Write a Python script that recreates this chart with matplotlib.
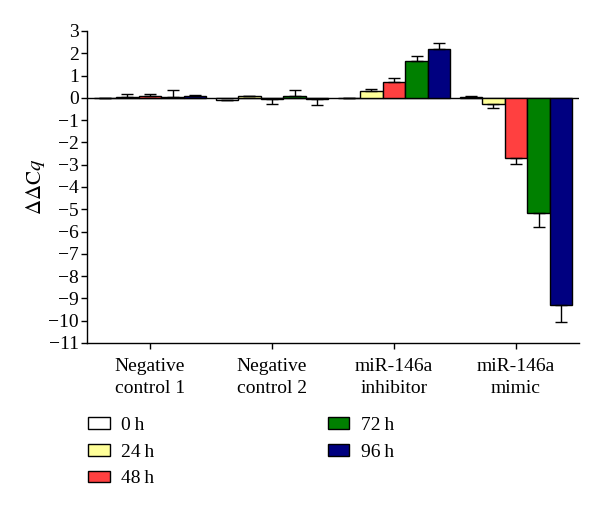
import numpy as np
import matplotlib
matplotlib.use('Agg')
import matplotlib.pyplot as plt

plt.rcParams['font.family'] = ['Liberation Serif', 'DejaVu Serif']
plt.rcParams['mathtext.fontset'] = 'stix'

groups = ['Negative\ncontrol 1', 'Negative\ncontrol 2', 'miR-146a\ninhibitor', 'miR-146a\nmimic']
times = ['0\u2009h', '24\u2009h', '48\u2009h', '72\u2009h', '96\u2009h']
colors = ['#ffffff', '#ffff99', '#ff4040', '#008000', '#000080']

# mean ddCq per time point, one entry per group
vals_0h = [0.0, -0.08, 0.0, 0.03]
vals_24h = [0.05, 0.06, 0.31, -0.27]
vals_48h = [0.10, -0.05, 0.69, -2.70]
vals_72h = [0.05, 0.07, 1.63, -5.19]
vals_96h = [0.08, -0.05, 2.19, -9.28]

err_0h = [0.0, 0.0, 0.0, 0.04]
err_24h = [0.11, 0.04, 0.08, 0.21]
err_48h = [0.05, 0.22, 0.21, 0.26]
err_72h = [0.28, 0.30, 0.25, 0.59]
err_96h = [0.04, 0.28, 0.27, 0.77]

values = [vals_0h, vals_24h, vals_48h, vals_72h, vals_96h]
errors = [err_0h, err_24h, err_48h, err_72h, err_96h]

fig = plt.figure(figsize=(6.0, 5.07), dpi=100)
ax = fig.add_axes([0.145, 0.3235, 0.82, 0.6155])

x = np.arange(len(groups))
w = 0.185
for i, (lab, col) in enumerate(zip(times, colors)):
    pos = x + (i - 2) * w
    v = np.array(values[i])
    e = np.array(errors[i])
    ax.bar(pos, v, w, color=col, edgecolor='black', linewidth=1.0, label=lab, zorder=2)
    lo = np.where(v < 0, e, 0)
    hi = np.where(v >= 0, e, 0)
    ax.errorbar(pos, v, yerr=[lo, hi], fmt='none', ecolor='black',
                elinewidth=1.0, capsize=4.5, capthick=1.0, zorder=3)

ax.axhline(0, color='black', lw=1.0, zorder=1)
ax.set_xlim(-0.516, 3.516)
ax.set_ylim(-11, 3)
ax.set_yticks(range(-11, 4))
ax.set_xticks(x)
ax.set_xticklabels(groups, fontsize=14, linespacing=1.35)
ax.tick_params(axis='y', labelsize=14, length=4, width=1.0, pad=2)
ax.tick_params(axis='x', length=4, width=1.0, pad=7)
ax.spines['top'].set_visible(False)
ax.spines['right'].set_visible(False)
for s in ('left', 'bottom'):
    ax.spines[s].set_linewidth(1.0)
ax.set_ylabel(r'$\Delta\Delta\mathrm{C}q$', fontsize=15, labelpad=1)

fig.legend(loc='upper left', bbox_to_anchor=(0.118, 0.212), ncol=2, frameon=False,
           fontsize=14, handlelength=1.1, handleheight=0.55, handletextpad=0.6,
           labelspacing=0.5, columnspacing=8.9)

fig.savefig('out.png', dpi=100)
